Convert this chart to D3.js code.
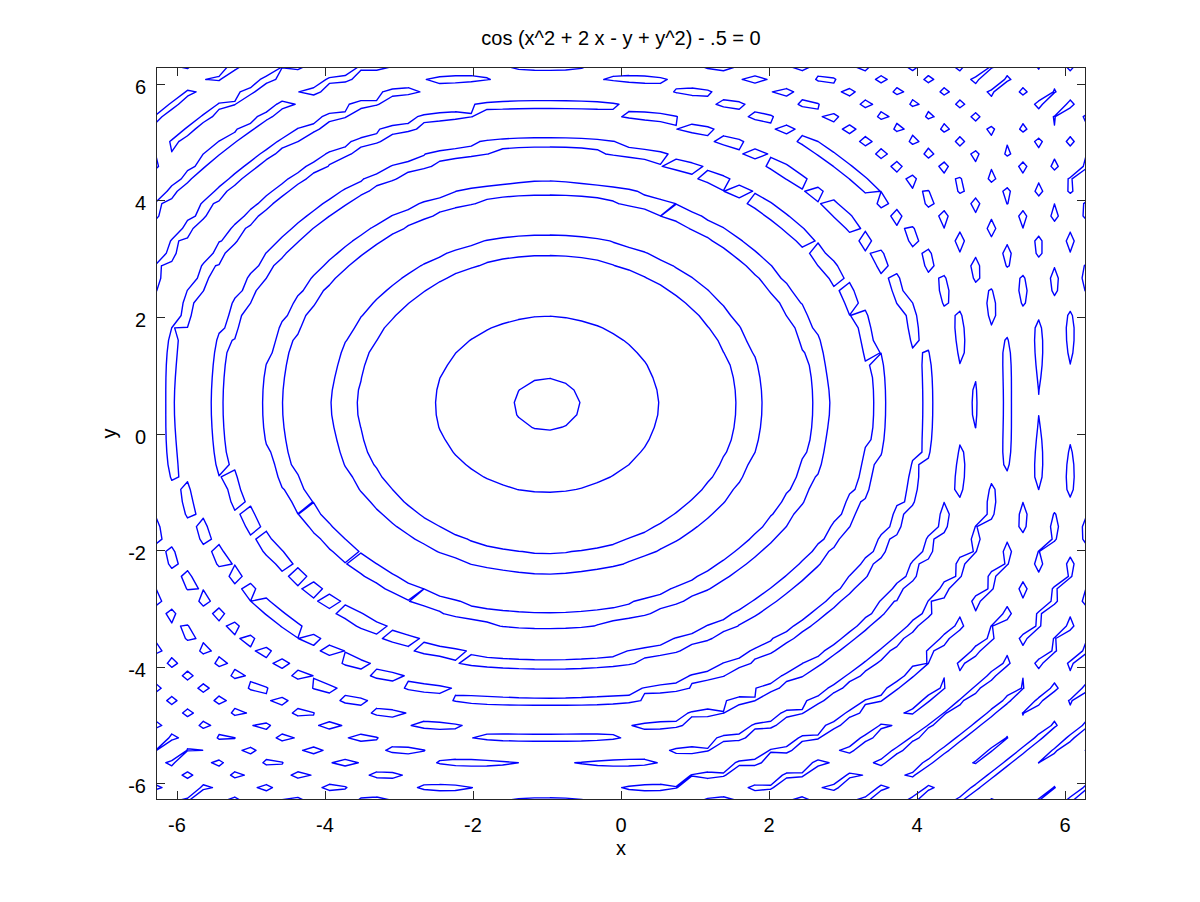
<!DOCTYPE html>
<html>
<head>
<meta charset="utf-8">
<script src="https://cdn.jsdelivr.net/npm/d3@7"></script>
<style>
  body { margin: 0; background: #fff; }
  text { font-family: "Liberation Sans", Arial, sans-serif; fill: #000; }
</style>
</head>
<body>
<div id="vis"></div>
<script>
// implicit curve shown in the title, sampled on a grid like ezplot does
var title = "cos (x^2 + 2 x - y + y^2) - .5 = 0";
var x_domain = [-2 * Math.PI, 2 * Math.PI];
var y_domain = [-2 * Math.PI, 2 * Math.PI];
var n_grid = [60, 60];
var levels = [0];
var x_ticks = [-6, -4, -2, 0, 2, 4, 6];
var y_ticks = [-6, -4, -2, 0, 2, 4, 6];
var x_label = "x";
var y_label = "y";

function field(x, y) {
  return Math.cos(x * x + 2 * x - y + y * y) - 0.5;
}

var opts = {
  "width": 1200,
  "height": 902,
  "left": 156,
  "right": 1086,
  "top": 67,
  "bottom": 800,
  "tick": 9,
  "font": 20
};

var svg = d3.select("#vis")
  .append("svg")
  .attr("width", opts.width)
  .attr("height", opts.height);

var x = d3.scaleLinear().domain(x_domain).range([opts.left, opts.right]);
var y = d3.scaleLinear().domain(y_domain).range([opts.bottom, opts.top]);

// grid index -> data coordinate
var gx = d3.scaleLinear().domain([0, n_grid[0] - 1]).range(x_domain);
var gy = d3.scaleLinear().domain([0, n_grid[1] - 1]).range(y_domain);

var nx = n_grid[0], ny = n_grid[1];
var Z = [];
for (var j = 0; j < ny; j++) {
  Z.push(d3.range(nx).map(function(i) { return field(gx(i), gy(j)); }));
}

function edge_point(i0, j0, i1, j1, lvl) {
  var a = Z[j0][i0], b = Z[j1][i1];
  var t = (lvl - a) / (b - a);
  return [gx(i0 + t * (i1 - i0)), gy(j0 + t * (j1 - j0))];
}

// marching squares; saddle cells always split bottom-right / left-top
function march(lvl) {
  var segs = [];
  for (var j = 0; j < ny - 1; j++) {
    for (var i = 0; i < nx - 1; i++) {
      var v00 = Z[j][i], v10 = Z[j][i + 1], v11 = Z[j + 1][i + 1], v01 = Z[j + 1][i];
      var c = (v00 > lvl ? 1 : 0) | (v10 > lvl ? 2 : 0) | (v11 > lvl ? 4 : 0) | (v01 > lvl ? 8 : 0);
      if (c === 0 || c === 15) continue;
      var b = function() { return edge_point(i, j, i + 1, j, lvl); },
          r = function() { return edge_point(i + 1, j, i + 1, j + 1, lvl); },
          t = function() { return edge_point(i, j + 1, i + 1, j + 1, lvl); },
          l = function() { return edge_point(i, j, i, j + 1, lvl); };
      if (c === 5 || c === 10) {
        segs.push([b(), r()]);
        segs.push([l(), t()]);
        continue;
      }
      var k = Math.min(c, 15 - c);
      if (k === 1) segs.push([b(), l()]);
      else if (k === 2) segs.push([b(), r()]);
      else if (k === 3) segs.push([l(), r()]);
      else if (k === 4) segs.push([r(), t()]);
      else if (k === 6) segs.push([b(), t()]);
      else if (k === 7) segs.push([l(), t()]);
    }
  }
  return segs;
}

var line = d3.line()
  .x(function(d) { return x(d[0]); })
  .y(function(d) { return y(d[1]); });

var segments = [];
levels.forEach(function(lv) { segments = segments.concat(march(lv)); });

svg.append("clipPath")
  .attr("id", "clip")
  .append("rect")
  .attr("x", opts.left)
  .attr("y", opts.top)
  .attr("width", opts.right - opts.left)
  .attr("height", opts.bottom - opts.top);

svg.append("path")
  .attr("clip-path", "url(#clip)")
  .attr("d", segments.map(function(s) { return line(s); }).join(""))
  .attr("fill", "none")
  .attr("stroke", "#0000ff")
  .attr("stroke-width", 1.4)
  .attr("stroke-linecap", "round")
  .attr("stroke-linejoin", "round");

// axes box
var axes = svg.append("g").attr("stroke", "#262626").attr("stroke-width", 1);

axes.append("rect")
  .attr("x", opts.left + 0.5)
  .attr("y", opts.top + 0.5)
  .attr("width", opts.right - opts.left - 1)
  .attr("height", opts.bottom - opts.top - 1)
  .attr("fill", "none");

x_ticks.forEach(function(tk) {
  var px = Math.round(x(tk)) + 0.5;
  axes.append("line").attr("x1", px).attr("x2", px)
    .attr("y1", opts.bottom).attr("y2", opts.bottom - opts.tick);
  axes.append("line").attr("x1", px).attr("x2", px)
    .attr("y1", opts.top).attr("y2", opts.top + opts.tick);
});
y_ticks.forEach(function(tk) {
  var py = Math.round(y(tk)) + 0.5;
  axes.append("line").attr("y1", py).attr("y2", py)
    .attr("x1", opts.left).attr("x2", opts.left + opts.tick);
  axes.append("line").attr("y1", py).attr("y2", py)
    .attr("x1", opts.right).attr("x2", opts.right - opts.tick);
});

svg.selectAll(".xtick")
  .data(x_ticks)
  .enter()
  .append("text")
  .attr("x", function(d) { return x(d); })
  .attr("y", 832)
  .attr("text-anchor", "middle")
  .style("font-size", opts.font + "px")
  .text(function(d) { return d; });

svg.selectAll(".ytick")
  .data(y_ticks)
  .enter()
  .append("text")
  .attr("x", opts.left - 10)
  .attr("y", function(d) { return y(d) + 10; })
  .attr("text-anchor", "end")
  .style("font-size", opts.font + "px")
  .text(function(d) { return d; });

svg.append("text")
  .attr("x", (opts.left + opts.right) / 2)
  .attr("y", 855)
  .attr("text-anchor", "middle")
  .style("font-size", opts.font + "px")
  .text(x_label);

svg.append("text")
  .attr("transform", "translate(116," + ((opts.top + opts.bottom) / 2) + ") rotate(-90)")
  .attr("text-anchor", "middle")
  .style("font-size", opts.font + "px")
  .text(y_label);

svg.append("text")
  .attr("x", (opts.left + opts.right) / 2)
  .attr("y", 45)
  .attr("text-anchor", "middle")
  .style("font-size", opts.font + "px")
  .text(title);
</script>
</body>
</html>
